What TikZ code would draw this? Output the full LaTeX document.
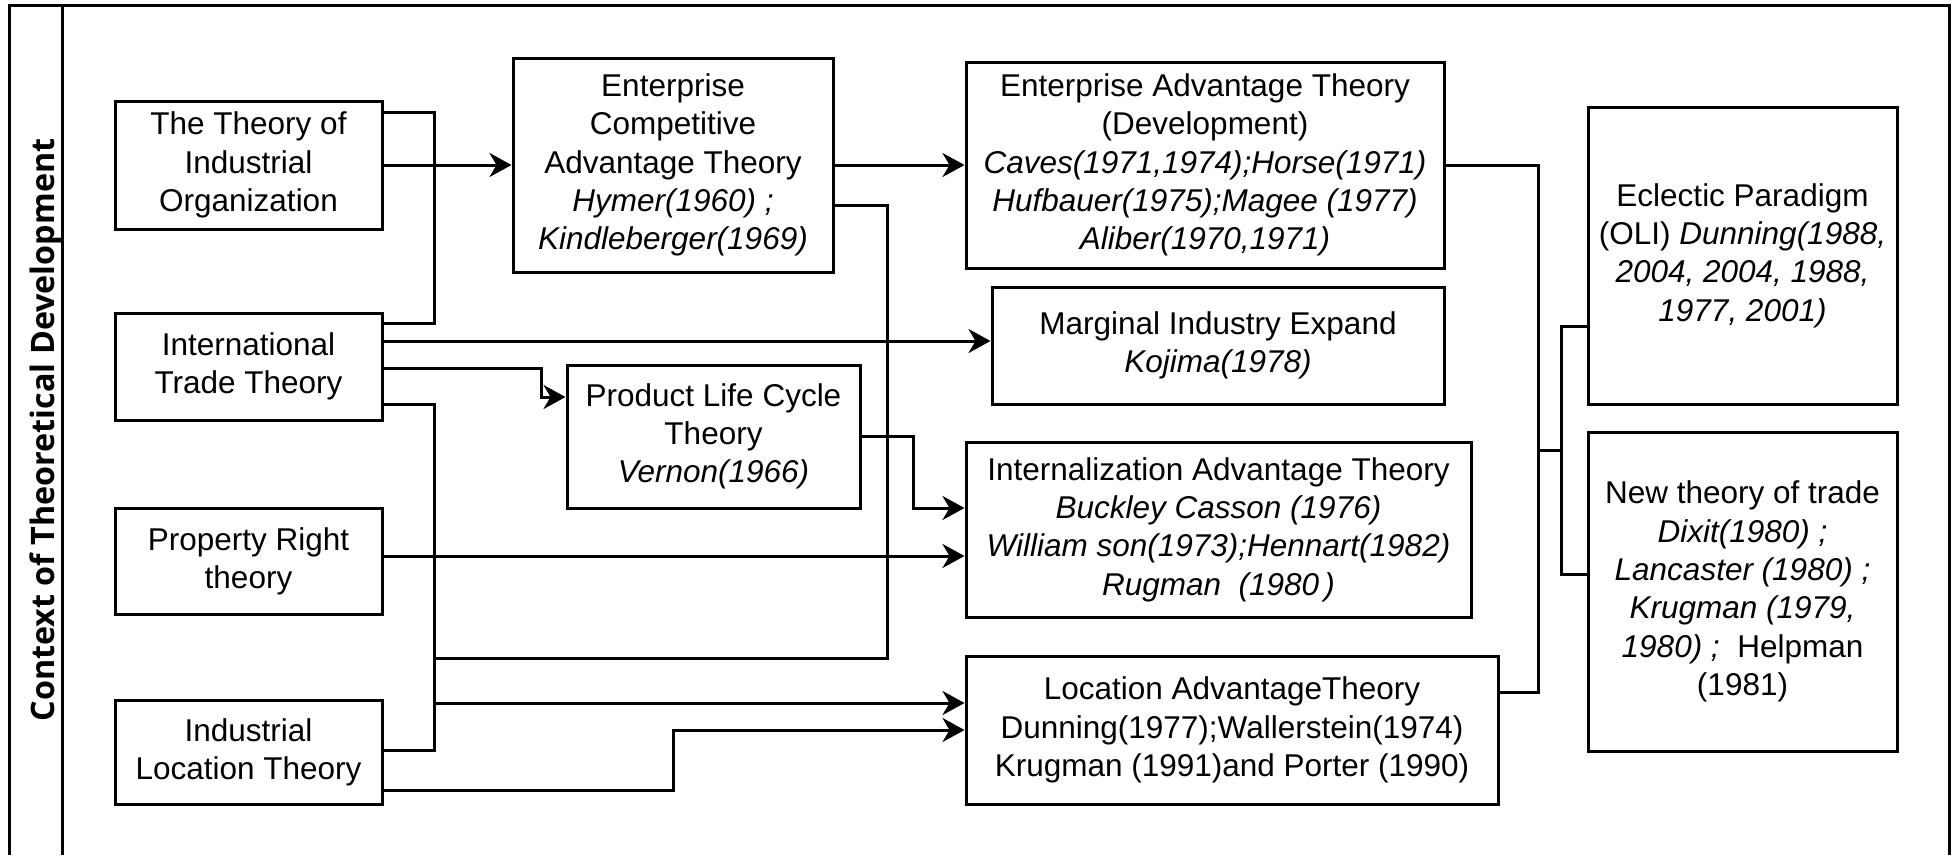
\documentclass[tikz,border=0pt]{standalone}
\usepackage{fontspec}
\setmainfont{Liberation Sans}
\newfontfamily\titlefont{Open Sans}
\usetikzlibrary{arrows.meta}
\begin{document}
\begin{tikzpicture}[x=1pt,y=-1pt,
  box/.style={draw, line width=3pt, align=center, inner sep=0pt,
    font=\fontsize{31.5}{38.3}\selectfont},
  link/.style={line width=3pt},
  arr/.style={link, -{Stealth[length=22pt,width=24pt,inset=7pt]}}]
\useasboundingbox (0,0) rectangle (1958,855);

% outer frame and title column
\draw[line width=3pt] (9,855) -- (9,5) -- (1949,5) -- (1949,855);
\draw[line width=3pt] (62,5) -- (62,855);
\node[rotate=90, anchor=base, font=\titlefont\bfseries\fontsize{32.3}{38}\selectfont]
  (title) at (54,430) {Context of Theoretical Development};

% source theories
\node[box, minimum width=267pt, minimum height=128pt] (io)  at (248.5,165)   {The Theory of\\Industrial\\Organization};
\node[box, minimum width=267pt, minimum height=107pt] (itt) at (248.5,366.5) {International\\Trade Theory};
\node[box, minimum width=267pt, minimum height=106pt] (pr)  at (248.5,561)   {Property Right\\theory};
\node[box, minimum width=267pt, minimum height=104pt] (ilt) at (248.5,752)   {Industrial\\Location Theory};

% intermediate theories
\node[box, minimum width=320pt, minimum height=214pt] (eca) at (673,165)
  {Enterprise\\Competitive\\Advantage Theory\\\textit{Hymer(1960) ;}\\\textit{Kindleberger(1969)}};
\node[box, minimum width=293pt, minimum height=143pt] (plc) at (713.5,436.5)
  {Product Life Cycle\\Theory\\\textit{Vernon(1966)}};

% advantage theories
\node[box, minimum width=478pt, minimum height=206pt] (eat) at (1205,165)
  {Enterprise Advantage Theory\\(Development)\\\textit{Caves(1971,1974);Horse(1971)}\\\textit{Hufbauer(1975);Magee (1977)}\\\textit{Aliber(1970,1971)}};
\node[box, minimum width=452pt, minimum height=117pt] (mie) at (1218,345.5)
  {Marginal Industry Expand\\\textit{Kojima(1978)}};
\node[box, minimum width=505pt, minimum height=175pt] (iat) at (1218.5,529.5)
  {Internalization Advantage Theory\\\textit{Buckley Casson (1976)}\\\textit{William son(1973);Hennart(1982)}\\\textit{Rugman\ \ (1980\,)}};
\node[box, minimum width=532pt, minimum height=148pt] (lat) at (1232,730)
  {Location AdvantageTheory\\Dunning(1977);Wallerstein(1974)\\Krugman (1991)and Porter (1990)};

% synthesis
\node[box, minimum width=309pt, minimum height=297pt] (ep) at (1742.5,255.5)
  {Eclectic Paradigm\\(OLI) \textit{Dunning(1988,}\\\textit{2004, 2004, 1988,}\\\textit{1977, 2001)}};
\node[box, minimum width=309pt, minimum height=319pt] (ntt) at (1742.5,591.5)
  {New theory of trade\\\textit{Dixit(1980) ;}\\\textit{Lancaster (1980) ;}\\\textit{Krugman (1979,}\\\textit{1980) ;}\ \ Helpman\\(1981)};

% junction points on the buses
\coordinate (busA) at (434,658);
\coordinate (busB) at (434,703);
\coordinate (tickL) at (1538,450);
\coordinate (tickR) at (1561,450);

% connectors
\draw[link] (io.east |- 0,112) -- (434,112) -- (434,323) -- (itt.east |- 0,323);
\draw[arr]  (io.east |- 0,165) -- (eca.west |- 0,165);
\draw[arr]  (itt.east |- 0,341) -- (mie.west |- 0,341);
\draw[arr]  (itt.east |- 0,368) -- (541,368) -- (541,397) -- (plc.west |- 0,397);
\draw[link] (itt.east |- 0,404) -- (434,404) -- (434,750) -- (ilt.east |- 0,750);
\draw[arr]  (pr.east |- 0,556) -- (iat.west |- 0,556);
\draw[link] (eca.east |- 0,205) -- (887,205) -- (887,658) -- (busA);
\draw[arr]  (busB) -- (lat.west |- busB);
\draw[arr]  (ilt.east |- 0,790) -- (673,790) -- (673,730) -- (lat.west |- 0,730);
\draw[arr]  (plc.east |- 0,436) -- (913,436) -- (913,508) -- (iat.west |- 0,508);
\draw[arr]  (eca.east |- 0,165) -- (eat.west |- 0,165);
\draw[link] (eat.east |- 0,165) -- (1538,165) -- (1538,692) -- (lat.east |- 0,692);
\draw[link] (tickL) -- (tickR);
\draw[link] (ep.west |- 0,326) -- (1561,326) -- (1561,574) -- (ntt.west |- 0,574);
\end{tikzpicture}
\end{document}
